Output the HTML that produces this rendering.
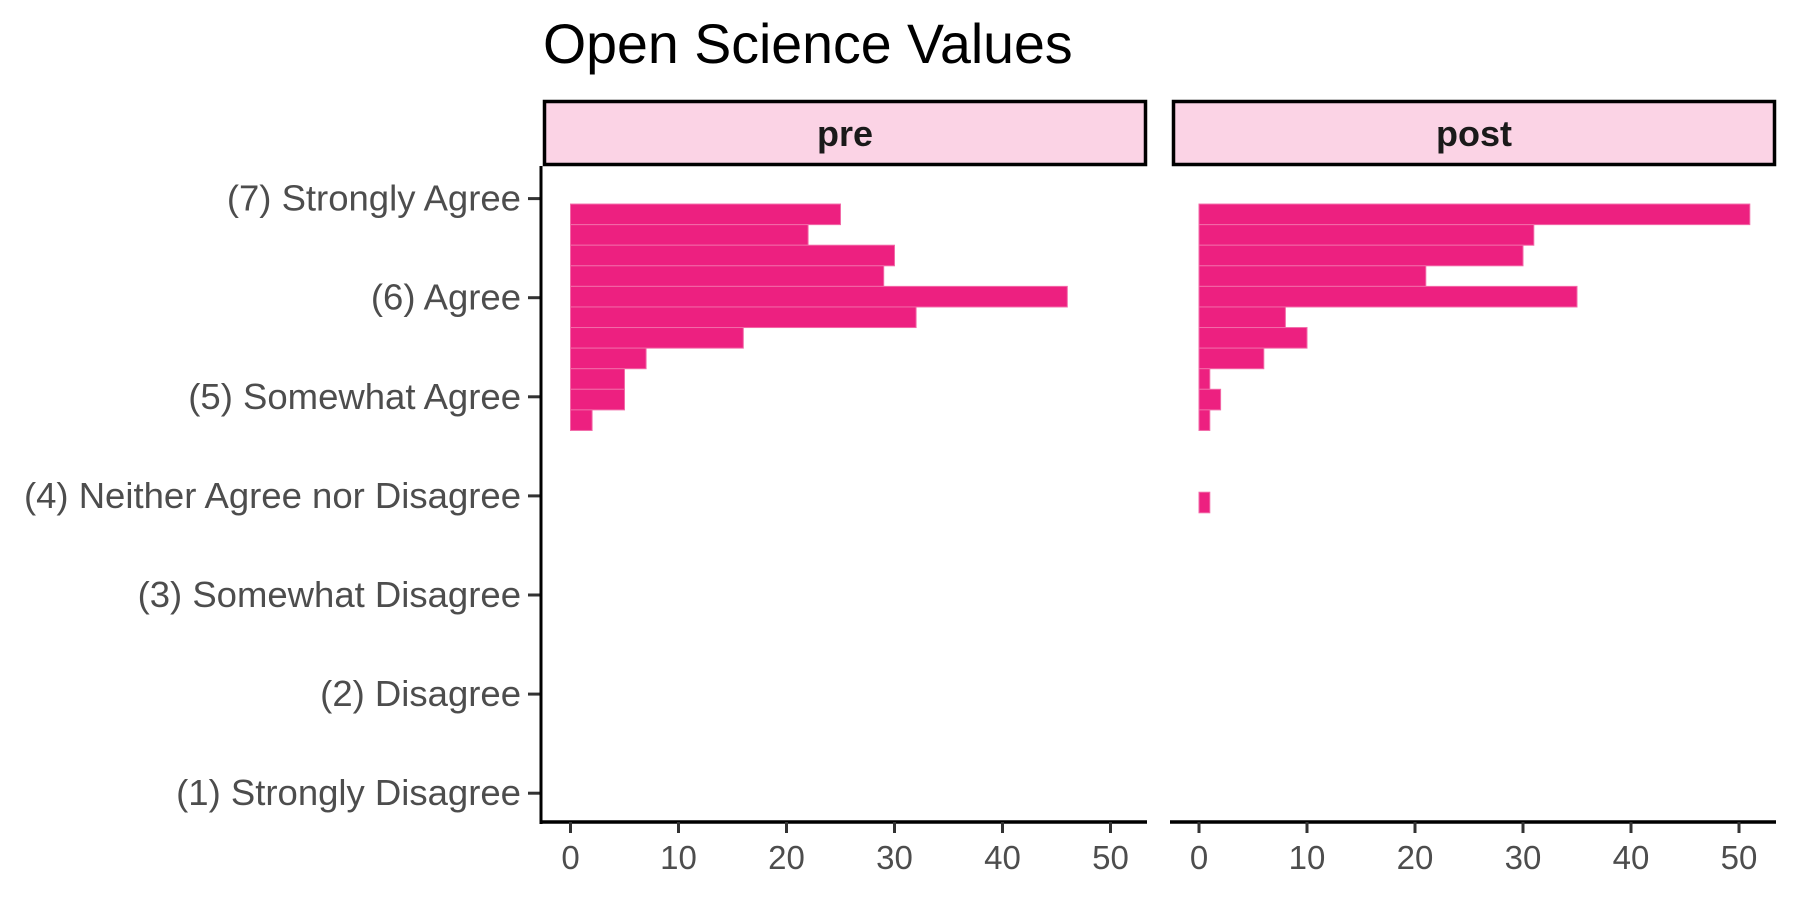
<!DOCTYPE html>
<html><head><meta charset="utf-8"><style>
body{margin:0;background:#fff;}
svg text{font-family:"Liberation Sans",sans-serif;}
</style></head><body>
<svg width="1800" height="900" viewBox="0 0 1800 900">
<text x="543" y="63" font-size="55.5" fill="#000">Open Science Values</text>
<g id="g"></g>
</svg>
<script>
const levels=["(1) Strongly Disagree","(2) Disagree","(3) Somewhat Disagree","(4) Neither Agree nor Disagree","(5) Somewhat Agree","(6) Agree","(7) Strongly Agree"];
const xTicks=[0,10,20,30,40,50];
const binTop=6.945, binWidth=0.2077;
const preCounts=[25,22,30,29,46,32,16,7,5,5,2,0,0,0,0];
const postCounts=[51,31,30,21,35,8,10,6,1,2,1,0,0,0,1];
const panels=[{name:"pre",counts:preCounts,x0:570.5,left:543,right:1147},{name:"post",counts:postCounts,x0:1199,left:1172,right:1776}];
const unit=10.8;
const y=v=>198.6+(7-v)*99.1;
const NS="http://www.w3.org/2000/svg";
const g=document.getElementById('g');
function el(t,a){const e=document.createElementNS(NS,t);for(const k in a)e.setAttribute(k,a[k]);g.appendChild(e);return e;}
levels.forEach((l,i)=>{
  const yy=y(i+1);
  const t=el('text',{x:521,y:yy+12,'font-size':36.5,fill:'#4D4D4D','text-anchor':'end'});t.textContent=l;
  
  
  const tk=el('line',{x1:528,x2:541,y1:yy,y2:yy,stroke:'#333','stroke-width':3});
  
  
});
const ax=el('line',{x1:541,x2:541,y1:166,y2:824,stroke:'#000','stroke-width':3});


panels.forEach(p=>{
  const s=el('rect',{x:p.left+1.5,y:101.5,width:p.right-p.left-3,height:63,fill:'#FBD3E5',stroke:'#000','stroke-width':3.5});
  
  
  const st=el('text',{x:(p.left+p.right)/2,y:146,'font-size':36,'font-weight':'bold',fill:'#1a1a1a','text-anchor':'middle'});st.textContent=p.name;
  
  
  p.counts.forEach((c,i)=>{
    if(!c)return;
    const top=y(binTop-i*binWidth),bot=y(binTop-(i+1)*binWidth);
    const r=el('rect',{x:p.x0,y:top,width:c*unit,height:bot-top,fill:'#ED2080',stroke:'#F26AA8','stroke-width':1});
    
    
  });
  const bl=el('line',{x1:p.left-2,x2:p.right,y1:822,y2:822,stroke:'#000','stroke-width':3.5});
  
  
  xTicks.forEach(v=>{
    const xx=p.x0+v*unit;
    const tk=el('line',{x1:xx,x2:xx,y1:822,y2:833,stroke:'#333','stroke-width':3});
    
    
    const tl=el('text',{x:xx,y:869,'font-size':33,fill:'#4D4D4D','text-anchor':'middle'});tl.textContent=v;
    
    
  });
});
</script>
</body></html>
